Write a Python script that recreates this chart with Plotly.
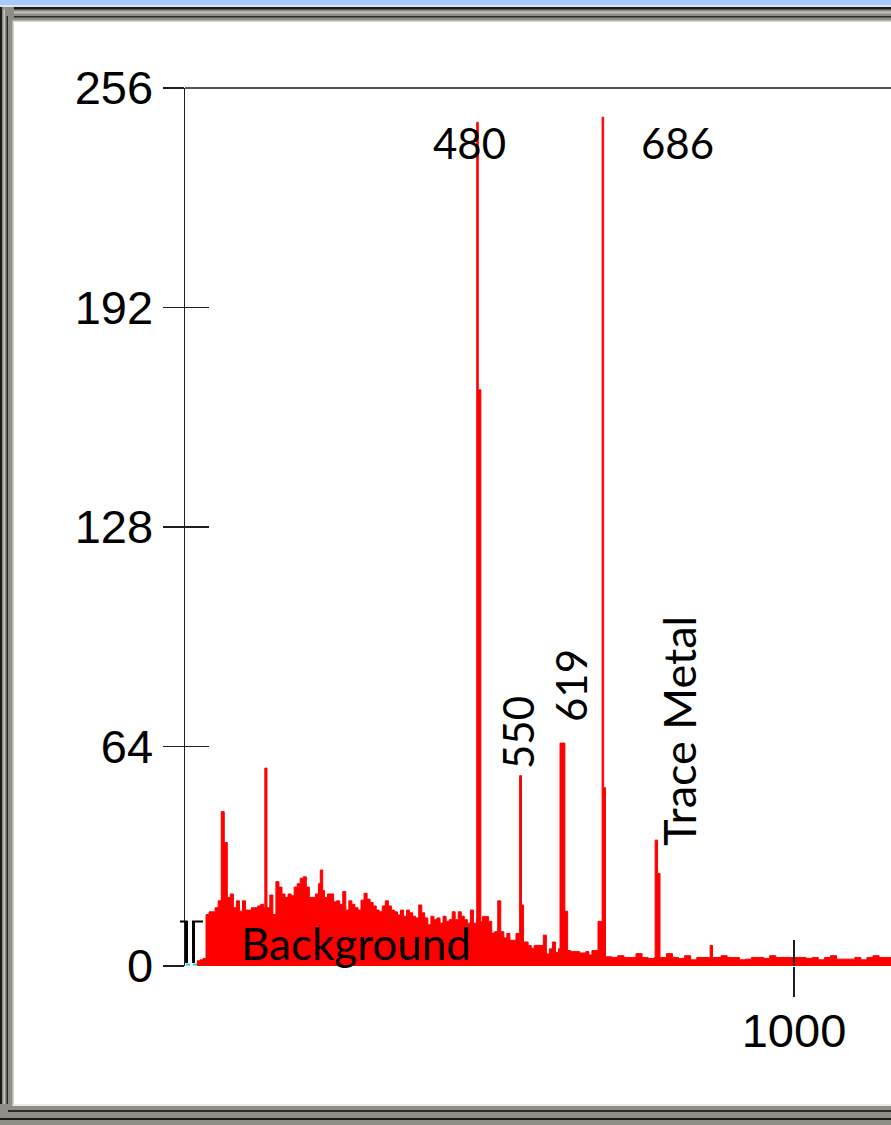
import plotly.graph_objects as go

# ---------------- data ----------------
# background continuum, 5-unit channels (centres)
bg_x = list(range(20, 700, 5))
bg_y = [
    1.5, 1.8, 2.2, 15, 15.8, 15.8, 17, 19, 45, 36,
    20, 21, 17, 19, 16, 19, 16.3, 16.3, 17, 17,
    17.5, 18, 17, 17, 20.7, 15, 24.6, 23, 21, 20,
    21, 20.5, 23, 24, 25.6, 26, 23, 20, 20, 21,
    24, 22, 20, 21, 21, 18.7, 19, 18, 21.7, 16.3,
    19, 18, 17, 16.3, 19.2, 21.2, 19.5, 18.5, 17.5, 16.3,
    15.8, 17.5, 19, 17.5, 16.3, 15.8, 14.9, 16.3, 14.5, 16.3,
    15.5, 14.5, 14, 17.8, 15.5, 14, 12, 14.5, 13.5, 14,
    12.5, 14.5, 13, 13.5, 15.8, 13.5, 15.8, 14.5, 13.5, 12.5,
    16.3, 12.5, 14, 12.9, 14.4, 14.4, 13, 9.6, 10, 19,
    10, 8.2, 9.5, 7.5, 7.5, 9.5, 7, 7, 7, 6,
    5.2, 6, 6, 6, 9, 3.5, 5, 7, 4, 5,
    5, 16, 4.5, 4.2, 4.2, 4.2, 3.8, 3.8, 4.2, 3.2,
    4.5, 4.5, 13, 13, 2.7, 2.7,
]
# high-energy tail, 10-unit channels (centres)
tail_x = list(range(705, 1170, 10))
tail_y = [
    2.5, 3.0, 2.5, 2.5, 3.6, 2.5, 2.2, 2.5, 2.5, 3.6,
    2.5, 2.2, 3.0, 1.8, 2.5, 2.5, 2.5, 2.5, 3.0, 2.5,
    2.5, 1.8, 2.0, 2.5, 2.5, 2.2, 3.0, 2.5, 2.5, 2.5,
    2.5, 2.5, 2.2, 2.5, 1.8, 2.5, 3.0, 2.0, 2.0, 2.0,
    2.5, 1.8, 2.5, 3.0, 2.5, 2.5, 2.5,
]
# narrow lines (position, counts, channel width)
peak_x = [131, 222.5, 479.2, 482, 550, 553.5, 619, 685.5, 687.5, 773.5, 777.5, 864]
peak_y = [57.7, 28, 246, 168, 55.5, 17.8, 65, 247.5, 52, 36.7, 27, 6]
peak_w = [3.5, 4, 2.5, 5.5, 3, 3, 8, 2.5, 4.5, 4, 4, 4]

y_ticks = [0, 64, 128, 192, 256]
x_ticks = [1000]

labels = ["480", "686", "550", "619", "Trace Metal", "Background"]

# ---------------- geometry ----------------
W, H = 891, 1125
L, T, R, B = 185, 88, 891, 966
PW, PH = R - L, B - T
XMIN, XMAX = -2.1, 1159.6
RED = "#ff0000"
INK = "#1e1e1e"


def fx(p):
    return (p - L) / PW


def fy(p):
    return (B - p) / PH


# ---- build one step outline from continuum channels + narrow lines ----
bins = [(c - 2.5, c + 2.5, v) for c, v in zip(bg_x, bg_y)]
bins += [(c - 5, c + 5, v) for c, v in zip(tail_x, tail_y)]
lines = [(c - w / 2, c + w / 2, v) for c, v, w in zip(peak_x, peak_y, peak_w)]

edges = sorted({e for a, b, _ in bins + lines for e in (a, b)})


def level(x):
    val = None
    for a, b, v in bins:
        if a <= x < b:
            val = v
            break
    if val is None:  # small gap between channel grids -> hold previous channel
        prev = [v for a, b, v in bins if b <= x]
        val = prev[-1] if prev else 0
    for a, b, v in lines:
        if a <= x < b:
            val = max(val, v)
    return val


sx, sy = [], []
for a, b in zip(edges[:-1], edges[1:]):
    sx.append(a)
    sy.append(level((a + b) / 2))
sx.append(edges[-1])
sy.append(sy[-1])

fig = go.Figure()
fig.add_trace(go.Scatter(
    x=sx, y=sy, mode="lines",
    line=dict(color=RED, width=1, shape="hv"),
    fill="tozeroy", fillcolor=RED, hoverinfo="skip", showlegend=False,
))
fig.add_trace(go.Scatter(x=[None], y=[None], xaxis="x2", yaxis="y2",
                         showlegend=False, hoverinfo="skip"))

tickfont = dict(family="Liberation Sans, Arial, sans-serif", size=47, color="black")
fig.update_layout(
    width=W, height=H,
    margin=dict(l=L, r=W - R, t=T, b=H - B, pad=0),
    paper_bgcolor="white", plot_bgcolor="white",
    showlegend=False,
    xaxis=dict(range=[XMIN, XMAX], tickvals=x_ticks, ticktext=[str(v) for v in x_ticks],
               ticks="outside", ticklen=30, tickwidth=1.5, tickcolor=INK,
               showline=False, showgrid=False, zeroline=False,
               tickfont=tickfont, ticklabelstandoff=-6, fixedrange=True),
    xaxis2=dict(overlaying="x", anchor="y", side="bottom", range=[XMIN, XMAX],
                tickvals=x_ticks, ticks="inside", ticklen=26, tickwidth=1.5,
                tickcolor=INK, showticklabels=False, showgrid=False,
                zeroline=False, showline=False),
    yaxis=dict(range=[0, 256], tickvals=y_ticks, ticktext=[str(v) for v in y_ticks],
               ticks="outside", ticklen=21, tickwidth=1.5, tickcolor=INK,
               showline=True, linecolor=INK, linewidth=1.5,
               showgrid=False, zeroline=False, tickfont=tickfont,
               ticklabelstandoff=0, fixedrange=True),
    yaxis2=dict(overlaying="y", anchor="x", side="left", range=[0, 256],
                tickvals=y_ticks[1:], ticks="inside", ticklen=24, tickwidth=1.5,
                tickcolor=INK, showticklabels=False, showgrid=False,
                zeroline=False, showline=False),
)

shapes = []


def rect(x0, y0, x1, y1, color):
    shapes.append(dict(type="rect", xref="paper", yref="paper",
                       x0=fx(x0), x1=fx(x1), y0=fy(y1), y1=fy(y0),
                       fillcolor=color, line=dict(width=0), layer="above"))


def seg(x0, y0, x1, y1, color, w):
    shapes.append(dict(type="line", xref="paper", yref="paper",
                       x0=fx(x0), x1=fx(x1), y0=fy(y0), y1=fy(y1),
                       line=dict(color=color, width=w), layer="above"))


# window frame
rect(0, 0, W, 5, "#a8caff")
rect(0, 5, W, 7, "#e2e2e2")
rect(0, 7, W, 22, "#8e8e86")
rect(0, 7, W, 9.5, "#1a1a1a")
rect(0, 11.5, W, 13.5, "#c4c4bc")
rect(0, 16, W, 17.5, "#2a2a2a")
rect(0, 20.5, W, 22, "#d8d8d0")
rect(0, 7, 14, H, "#8e8e86")
rect(0, 7, 2, H, "#1a1a1a")
rect(3.5, 9.5, 5, H, "#c4c4bc")
rect(6.5, 16, 8, H, "#2a2a2a")
rect(12.5, 20.5, 14, 1105, "#d8d8d0")
rect(0, 1104, W, H, "#8e8e86")
rect(12.5, 1104, W, 1106, "#ece9e0")
rect(8, 1110, W, 1112, "#2a2a2a")
rect(0, 1118, W, 1120, "#1a1a1a")

# top border line at full scale
seg(L, T, W, T, INK, 1.5)

# cursor markers near origin
seg(186.5, 921, 186.5, 963, "black", 3)
seg(180, 921.5, 187.5, 921.5, "black", 2)
seg(193.5, 921, 193.5, 963, "black", 3)
seg(192, 921.5, 203, 921.5, "black", 2)
seg(186, 964.5, 190, 964.5, "#00dede", 2)
seg(193, 964.5, 197, 964.5, "#00dede", 2)

fig.update_layout(shapes=shapes)

# annotations (pixel centres -> paper)
ann_pos = [(469, 143, 0, 42), (677, 143, 0, 42), (518, 733, -90, 42), (571, 686, -90, 42),
           (679, 731, -90, 45), (356, 943, 0, 44)]
for text, (px, py, ang, size) in zip(labels, ann_pos):
    fig.add_annotation(x=fx(px), y=fy(py), xref="paper", yref="paper",
                       text=text, showarrow=False, textangle=ang,
                       xanchor="center", yanchor="middle",
                       font=dict(family="Lato, Open Sans, sans-serif", size=size,
                                 color="black"))

fig.write_html(
    "out.html",
    config={"displayModeBar": False, "staticPlot": True},
    post_script="document.body.style.margin='0';document.body.style.overflow='hidden';",
)
